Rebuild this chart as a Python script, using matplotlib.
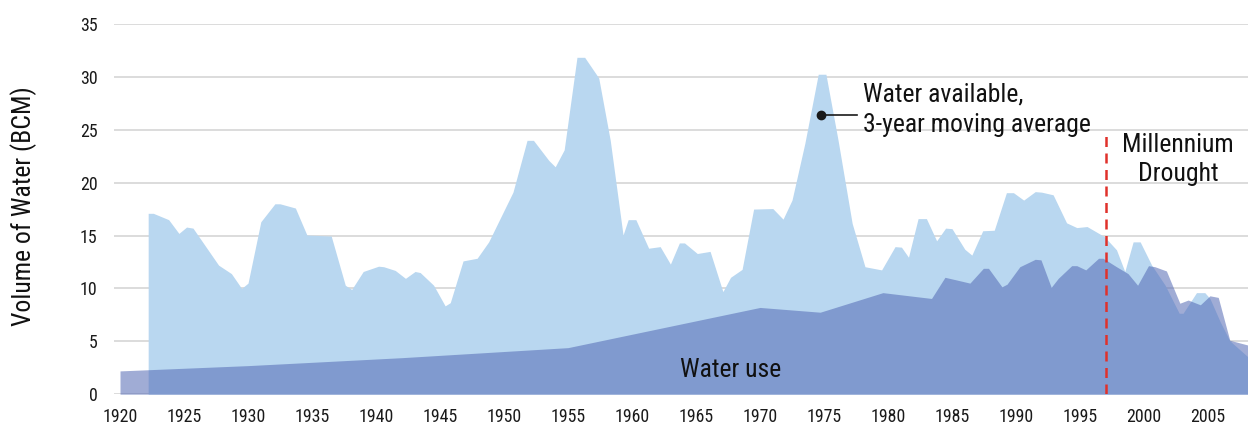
import matplotlib
matplotlib.use("Agg")
import matplotlib.pyplot as plt
from matplotlib import font_manager as fm

# Water available, 3-year moving average (BCM)
avail_years = [1922.2, 1922.6, 1923.8, 1924.6, 1925.2, 1925.7, 1927.7, 1928.7, 1929.5, 1930.0,
               1931.0, 1932.1, 1932.5, 1933.7, 1934.6, 1936.5, 1937.6, 1938.1, 1939.0, 1940.2,
               1940.6, 1941.5, 1942.3, 1943.05, 1943.45, 1944.5, 1945.4, 1945.8, 1946.8, 1947.9,
               1948.8, 1950.7, 1951.8, 1952.3, 1953.5, 1954.0, 1954.7, 1955.7, 1956.3, 1957.4,
               1958.3, 1959.3, 1959.7, 1960.3, 1961.3, 1962.2, 1963.0, 1963.7, 1964.1, 1965.1,
               1966.1, 1967.1, 1967.7, 1968.6, 1969.5, 1971.0, 1971.8, 1972.5, 1973.5, 1974.55,
               1975.15, 1976.1, 1977.2, 1978.2, 1979.5, 1980.55, 1981.05, 1981.6, 1982.35, 1983.0,
               1983.8, 1984.5, 1985.0, 1986.0, 1986.55, 1987.4, 1988.3, 1989.25, 1989.8, 1990.6,
               1991.5, 1992.0, 1992.9, 1993.95, 1994.75, 1995.55, 1996.9, 1997.85, 1998.5, 1999.15,
               1999.7, 2000.6, 2001.65, 2002.75, 2003.05, 2004.1, 2004.75, 2005.15, 2005.95, 2006.7,
               2008.1]
avail_values = [17.1, 17.1, 16.5, 15.2, 15.8, 15.7, 12.2, 11.4, 10.0, 10.5,
                16.3, 18.0, 18.0, 17.6, 15.05, 14.95, 10.3, 9.9, 11.6, 12.1,
                12.05, 11.7, 10.95, 11.6, 11.5, 10.3, 8.35, 8.65, 12.6, 12.85,
                14.4, 19.1, 24.0, 24.0, 22.1, 21.5, 23.1, 31.85, 31.85, 29.9,
                24.0, 15.05, 16.5, 16.5, 13.8, 13.95, 12.3, 14.3, 14.3, 13.3,
                13.5, 9.7, 11.05, 11.8, 17.5, 17.55, 16.55, 18.35, 23.7, 30.25,
                30.25, 24.0, 16.15, 12.05, 11.75, 13.95, 13.9, 12.95, 16.6, 16.6,
                14.5, 15.7, 15.65, 13.7, 13.15, 15.45, 15.5, 19.05, 19.05, 18.35,
                19.15, 19.1, 18.85, 16.2, 15.75, 15.85, 14.9, 13.65, 11.6, 14.4,
                14.4, 12.2, 10.3, 7.65, 7.65, 9.6, 9.6, 9.05, 6.85, 5.05,
                3.55]

# Water use (BCM)
use_years = [1920.0, 1930.0, 1942.0, 1955.0, 1970.0, 1974.7, 1979.6, 1983.4, 1984.45, 1985.35,
             1986.4, 1987.45, 1987.85, 1988.9, 1989.3, 1990.3, 1991.5, 1991.95, 1992.75, 1993.3,
             1994.35, 1994.75, 1995.45, 1996.45, 1996.8, 1997.85, 1998.75, 1999.5, 2000.35, 2000.85,
             2001.75, 2002.8, 2003.45, 2004.4, 2005.15, 2005.8, 2006.7, 2008.1]
use_values = [2.2, 2.7, 3.45, 4.4, 8.2, 7.75, 9.6, 9.05, 11.05, 10.8,
              10.5, 11.9, 11.9, 10.15, 10.4, 12.05, 12.75, 12.7, 10.1, 10.95,
              12.15, 12.15, 11.75, 12.85, 12.85, 12.05, 11.4, 10.3, 12.15, 12.05,
              11.65, 8.6, 8.9, 8.45, 9.3, 9.15, 5.1, 4.65]

drought_start = 1997
drought_top = 24.5
callout_point = (1974.73, 26.4)
callout_end = 1977.55

xticks = list(range(1920, 2006, 5))
yticks = list(range(0, 36, 5))


# the original uses a condensed sans; take a narrow face if one is installed
def pick_font():
    fonts = fm.fontManager.ttflist
    for want in ['Liberation Sans Narrow', 'Roboto Condensed', 'Open Sans Condensed']:
        for f in fonts:
            if f.name == want and f.style == 'normal' and str(f.weight) in ('400', 'normal', 'regular', 'book'):
                return f.fname
    for f in fonts:
        if (f.name in ('DejaVu Sans', 'Roboto', 'Open Sans', 'Noto Sans') and 'condensed' in str(f.stretch)
                and f.style == 'normal' and str(f.weight) in ('400', 'normal', 'regular', 'book')):
            return f.fname
    return fm.findfont('Roboto')


font = fm.FontProperties(fname=pick_font())

fig = plt.figure(figsize=(12.48, 4.30), dpi=100)
renderer = fig.canvas.get_renderer()


# font size that gives a text roughly the width it has in the original
def fit_size(s, width_px):
    t = fig.text(0, 0, s, fontproperties=font, fontsize=10)
    w = t.get_window_extent(renderer).width
    t.remove()
    return 10 * width_px / w


big = fit_size('3-year moving average', 228)
small = fit_size('1920', 35)

ax = fig.add_axes([114 / 1248, 0.0833, 1 - 114 / 1248, 0.8609])

ax.fill_between(avail_years, avail_values, 0, color='#b9d7f0', lw=0, zorder=2)
ax.fill_between(use_years, use_values, 0, color='#5268b4', alpha=0.55, lw=0, zorder=3)

ax.plot([drought_start, drought_start], [0, drought_top], color='#e0312b', lw=1.8,
        dashes=[4.0, 2.6], zorder=4)

# callout for water available
ax.plot([callout_point[0], callout_end], [callout_point[1], callout_point[1]],
        color='#1a1a1a', lw=1.2, zorder=5)
ax.plot(*callout_point, 'o', color='#1a1a1a', ms=6, zorder=5)
ax.text(1978.07, 27.65, 'Water available,', fontproperties=font, fontsize=big, color='#111111', va='baseline')
ax.text(1978.07, 24.81, '3-year moving average', fontproperties=font, fontsize=big, color='#111111', va='baseline')

ax.text(2002.68, 22.92, 'Millennium', fontproperties=font, fontsize=big, color='#111111', ha='center', va='baseline')
ax.text(2002.68, 20.18, 'Drought', fontproperties=font, fontsize=big, color='#111111', ha='center', va='baseline')
ax.text(1967.71, 1.65, 'Water use', fontproperties=font, fontsize=big, color='#111111', ha='center', va='baseline',
        zorder=6)

ax.set_xlim(1919.53, 2008.125)
ax.set_ylim(0, 35)
ax.set_xticks(xticks)
ax.set_yticks(yticks)
ax.tick_params(axis='both', length=0, labelcolor='#1a1a1a')
ax.tick_params(axis='y', pad=12)
ax.tick_params(axis='x', pad=10)
for lab in ax.get_xticklabels() + ax.get_yticklabels():
    lab.set_fontproperties(font)
    lab.set_fontsize(small)
ax.grid(axis='y', color='#d9d9d9', lw=1.3, zorder=0)
ax.grid(axis='x', visible=False)
ax.set_axisbelow(True)
for s in ax.spines.values():
    s.set_visible(False)

fig.text(24 / 1248, 1 - 206 / 430, 'Volume of Water (BCM)', rotation=90, fontproperties=font,
         fontsize=big, color='#111111', ha='center', va='center')

fig.savefig('out.png', dpi=100)
